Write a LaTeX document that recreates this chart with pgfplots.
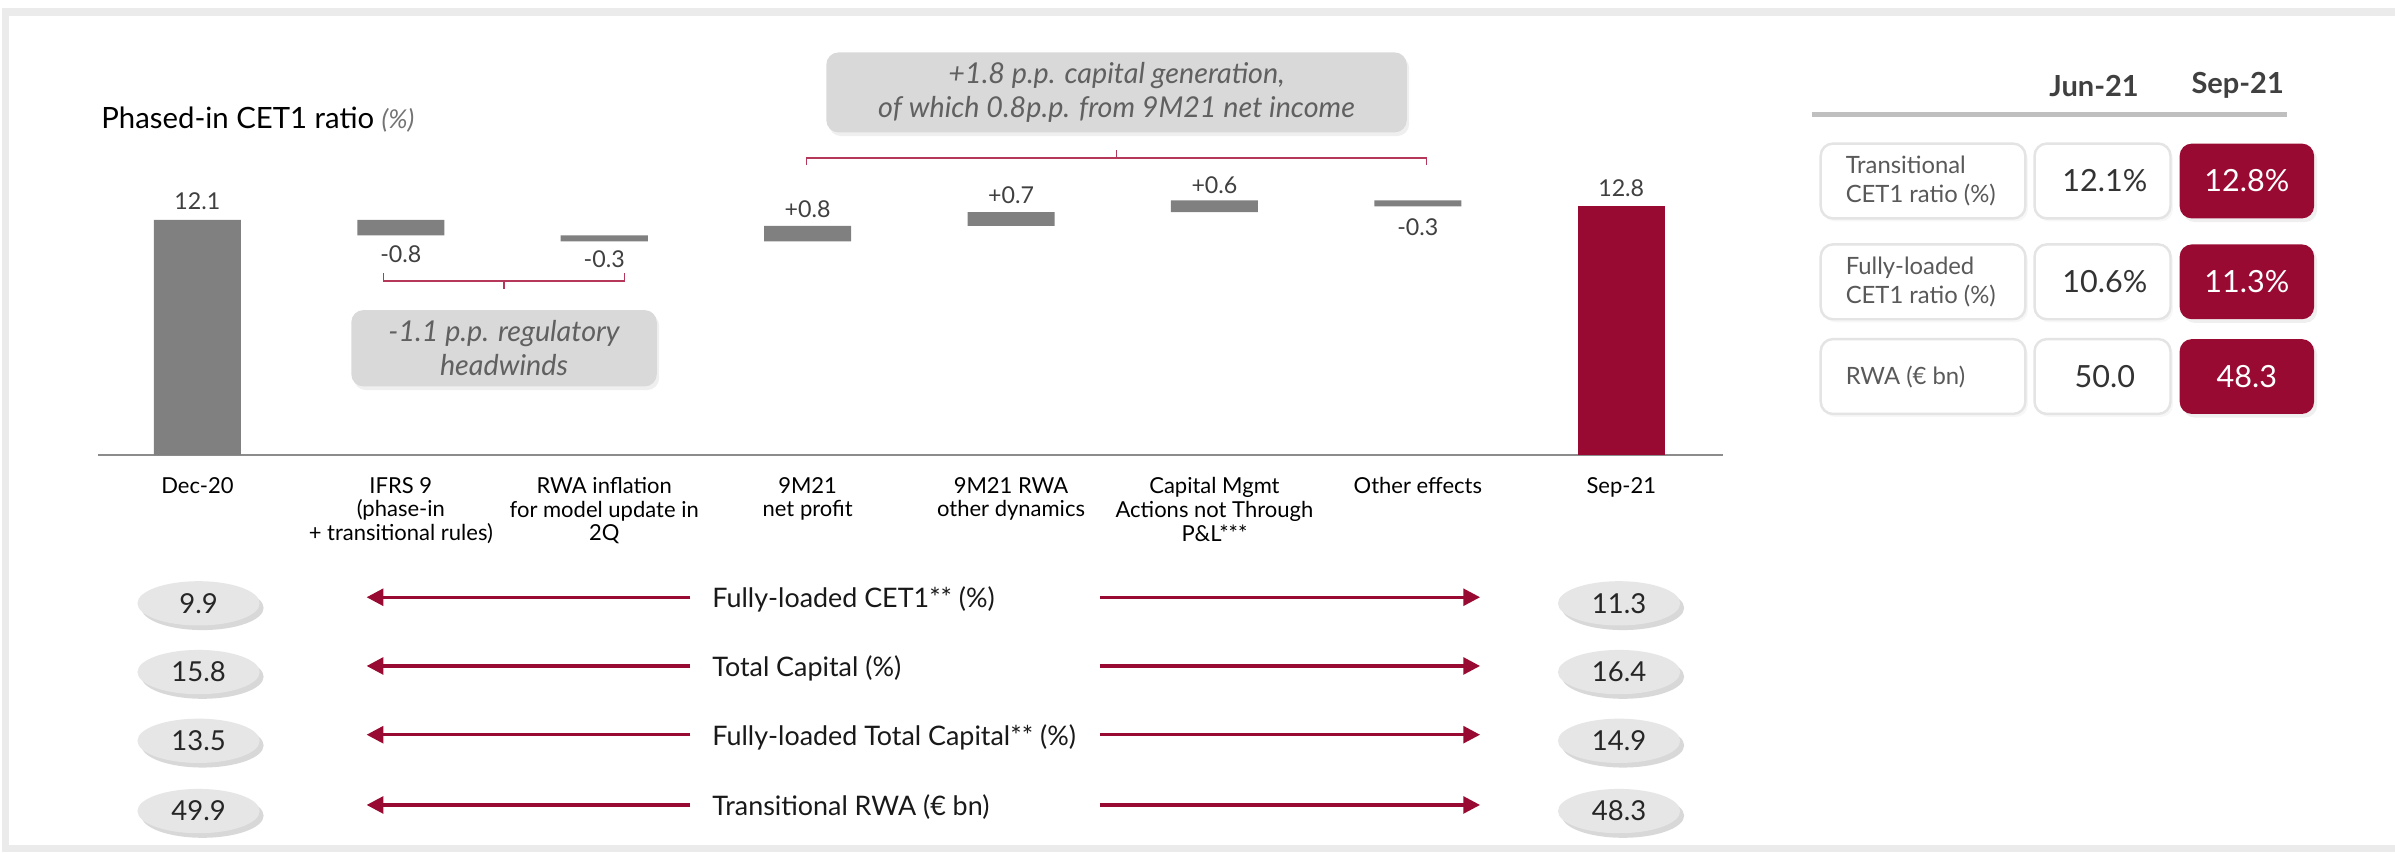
\documentclass[border=0pt]{standalone}
\usepackage{pgfplots}
\pgfplotsset{compat=1.18}
\usepackage{fontspec}
\setmainfont{Lato}
\usetikzlibrary{arrows.meta, shapes.geometric, shadows}

\definecolor{crimson}{HTML}{990A32}
\definecolor{bargray}{HTML}{808080}
\definecolor{valtxt}{HTML}{404040}
\definecolor{brack}{HTML}{B5375A}
\definecolor{callout}{HTML}{D9D9D9}
\definecolor{calltxt}{HTML}{606060}
\definecolor{framegray}{HTML}{EBEBEB}
\definecolor{bubble}{HTML}{E6E6E6}
\definecolor{cellline}{HTML}{E4E4E4}

\newcommand{\setfs}[2]{\fontsize{#1}{#2}\selectfont}
\tikzset{
  vl/.style={font=\setfs{7.6}{9}, text=valtxt, inner sep=0pt},
  bub/.style={ellipse, fill=bubble, minimum width=40pt, minimum height=14.5pt, inner sep=0pt,
    font=\setfs{9}{10}, text=black!85,
    drop shadow={opacity=0.3, shadow xshift=1.3pt, shadow yshift=-1.5pt}},
  arr/.style={crimson, line width=1.1pt, -{Triangle[length=5.5pt,width=5.5pt]}},
}

\begin{document}
\begin{tikzpicture}
\useasboundingbox (0,0) rectangle (784pt,-279pt);
\fill[white] (0,0) rectangle (784pt,-279pt);
\draw[framegray, line width=2.5pt] (1.75pt,-4pt) rectangle (800pt,-277.75pt);

% waterfall: invisible base + visible step
\begin{axis}[
  at={(32pt,-149pt)}, anchor=south west,
  width=532pt, height=89.1pt, scale only axis,
  xmin=-0.49, xmax=7.5, ymin=0, ymax=14,
  ybar stacked, bar width=28.5pt,
  axis x line=bottom, axis y line=none,
  x axis line style={-, draw=black!45, line width=0.5pt},
  xtick={0,1,2,3,4,5,6,7}, major tick length=0pt,
  xticklabels={Dec-20, IFRS 9\\(phase-in\\+ transitional rules), RWA inflation\\for model update in\\2Q, 9M21\\net profit, 9M21 RWA\\other dynamics, Capital Mgmt\\Actions not Through\\P\&L***, Other effects, Sep-21},
  xticklabel style={align=center, inner sep=0pt, yshift=-7pt, font=\setfs{7.2}{7.8}, text=black},
  clip=false,
]
\addplot[draw=none, fill=white, fill opacity=0] coordinates {(0,0) (1,11.3) (2,11.0) (3,11.0) (4,11.8) (5,12.5) (6,12.8) (7,0)};
\addplot[draw=none, fill=bargray] coordinates {(0,12.1) (1,0.8) (2,0.3) (3,0.8) (4,0.7) (5,0.6) (6,0.3) (7,0)};
\addplot[draw=none, fill=crimson] coordinates {(0,0) (1,0) (2,0) (3,0) (4,0) (5,0) (6,0) (7,12.8)};

\node[vl, anchor=south, yshift=3pt] at (axis cs:0,12.1) {12.1};
\node[vl, anchor=north, yshift=-3pt] at (axis cs:1,11.3) {-0.8};
\node[vl, anchor=north, yshift=-3pt] at (axis cs:2,11.0) {-0.3};
\node[vl, anchor=south, yshift=2.5pt] at (axis cs:3,11.8) {+0.8};
\node[vl, anchor=south, yshift=2.5pt] at (axis cs:4,12.5) {+0.7};
\node[vl, anchor=south, yshift=2pt] at (axis cs:5,13.1) {+0.6};
\node[vl, anchor=north, yshift=-4pt] at (axis cs:6,12.8) {-0.3};
\node[vl, anchor=south, yshift=3pt] at (axis cs:7,12.8) {12.8};
\end{axis}

\begin{scope}[x=0.5pt, y=-0.5pt]
% title
\node[anchor=base west, inner sep=0pt, font=\setfs{9.6}{11}] at (66,84)
  {Phased-in CET1 ratio {\color{black!55}\itshape\setfs{8.5}{10}(\%)}};

% brackets
\draw[brack, line width=0.5pt] (251,179) -- (251,184) -- (409,184) -- (409,179);
\draw[brack, line width=0.5pt] (330,184) -- (330,189);
\draw[brack, line width=0.5pt] (528,108) -- (528,103.5) -- (934,103.5) -- (934,108);
\draw[brack, line width=0.5pt] (731,103.5) -- (731,98);

% callouts
\node[fill=callout, rounded corners=4pt, minimum width=100pt, minimum height=25pt,
  align=center, font=\itshape\setfs{9.4}{11}, text=calltxt,
  drop shadow={opacity=0.12, shadow xshift=0.8pt, shadow yshift=-1.2pt}]
  at (330,228) {-1.1 p.p. regulatory\\headwinds};
\node[fill=callout, rounded corners=4pt, minimum width=190pt, minimum height=24.5pt,
  align=center, font=\itshape\setfs{9.4}{11}, text=calltxt,
  drop shadow={opacity=0.12, shadow xshift=0.8pt, shadow yshift=-1.2pt}]
  at (731,60.5) {+1.8 p.p. capital generation,\\of which 0.8p.p. from 9M21 net income};

% bottom rows
\foreach \y/\l/\a/\b in {391/{Fully-loaded CET1** (\%)}/9.9/11.3,
                         436/{Total Capital (\%)}/15.8/16.4,
                         481/{Fully-loaded Total Capital** (\%)}/13.5/14.9,
                         527/{Transitional RWA (€ bn)}/49.9/48.3} {
  \node[bub] at (130,\y+4) {\a};
  \node[bub] at (1060,\y+4) {\b};
  \draw[arr] (452,\y) -- (240,\y);
  \draw[arr] (720,\y) -- (969,\y);
  \node[anchor=west, inner sep=0pt, font=\setfs{8.8}{10}, text=black!90] at (466,\y+1.5) {\l};
}

% right table
\node[font=\bfseries\setfs{9.5}{11}, text=valtxt] at (1371,56) {Jun-21};
\node[font=\bfseries\setfs{9.5}{11}, text=valtxt] at (1465,56) {Sep-21};
\draw[black!25, line width=1.8pt] (1186,75) -- (1497,75);

\foreach \yt/\yb/\ym/\lab/\j/\s in {94/143/118.5/{Transitional\\CET1 ratio (\%)}/{12.1\%}/{12.8\%},
                                     160/209/184.5/{Fully-loaded\\CET1 ratio (\%)}/{10.6\%}/{11.3\%},
                                     222/271/246.5/{RWA (€ bn)}/{50.0}/{48.3}} {
  \draw[cellline, fill=white, rounded corners=4pt, line width=0.8pt,
    drop shadow={opacity=0.06, shadow xshift=0.8pt, shadow yshift=-1pt}] (1192,\yt) rectangle (1326,\yb);
  \draw[cellline, fill=white, rounded corners=4pt, line width=0.8pt,
    drop shadow={opacity=0.06, shadow xshift=0.8pt, shadow yshift=-1pt}] (1332,\yt) rectangle (1421,\yb);
  \fill[crimson, rounded corners=4pt,
    drop shadow={opacity=0.12, shadow xshift=1pt, shadow yshift=-1.2pt}] (1427,\yt) rectangle (1515,\yb);
  \node[anchor=west, align=left, inner sep=0pt, font=\setfs{7.8}{9.6}, text=black!65] at (1208,\ym) {\lab};
  \node[font=\setfs{10}{11}, text=black!80] at (1378,\ym) {\j};
  \node[font=\setfs{10}{11}, text=white] at (1471,\ym) {\s};
}
\end{scope}
\end{tikzpicture}
\end{document}
